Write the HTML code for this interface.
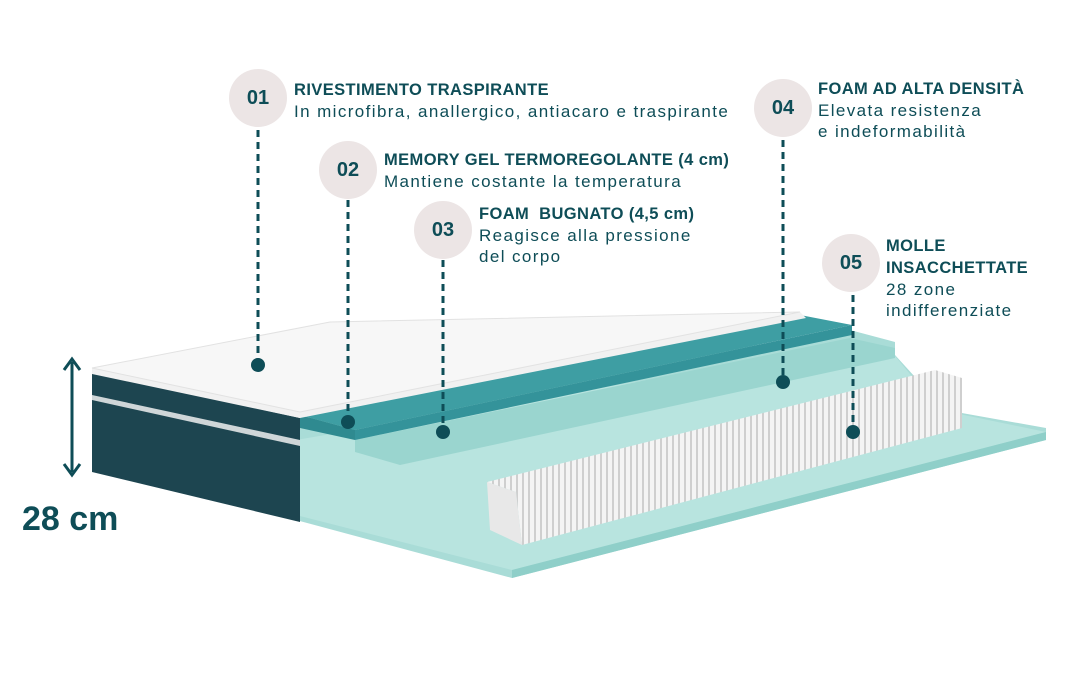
<!DOCTYPE html>
<html><head><meta charset="utf-8"><style>
html,body{margin:0;padding:0;background:#fff;}
body{width:1080px;height:680px;position:relative;overflow:hidden;font-family:"Liberation Sans",sans-serif;color:#0e4d57;}
.c{position:absolute;width:58px;height:58px;border-radius:50%;background:#ece5e5;font-weight:bold;font-size:20px;display:flex;align-items:center;justify-content:center;color:#0e4d57;}
.t{position:absolute;font-size:17px;letter-spacing:1.4px;line-height:21px;color:#0e4d57;white-space:nowrap;}
.t b{font-size:16.5px;letter-spacing:0.4px;}
</style></head><body>
<svg width="1080" height="680" style="position:absolute;left:0;top:0">
<defs>
<pattern id="sp" width="6" height="10" patternUnits="userSpaceOnUse">
<rect width="6" height="10" fill="#f4f4f4"/><rect x="0" width="2" height="10" fill="#cfcfcf"/>
</pattern>
</defs>
<polygon points="296,420 850,330 895,342 895,355 945,410 1046,428 1046,440 512,578 296,520" fill="#a9dcd7"/>
<polygon points="296,440 850,345 895,356 940,410 1046,432 512,570 296,515" fill="#b8e4df"/>
<polygon points="512,578 512,570 1046,432 1046,440" fill="#8fcfc9"/>
<polygon points="487,482 935,370 962,378 962,428 522,545 516,492" fill="url(#sp)"/>
<polygon points="487,482 516,492 522,545 490,530" fill="#e8e8e8"/>
<polygon points="355,440 850,338 895,348 895,358 400,465 355,452" fill="#9ad5cf"/>
<polygon points="300,415 800,315 852,325 355,430" fill="#3e9ea3"/>
<polygon points="300,415 355,430 355,440 300,428" fill="#2f8a90"/>
<polygon points="355,430 852,325 852,335 355,440" fill="#34939a"/>
<polygon points="92,372 300,418 300,522 92,472" fill="#1d4550"/>
<polygon points="92,395 300,440 300,446 92,400" fill="#cfd6d8"/>
<polygon points="92,368 330,322 800,312 806,318 300,418 92,374" fill="#f1f1f1"/>
<polygon points="92,368 330,322 800,312 300,412" fill="#f7f7f7" stroke="#e2e2e2"/>
<g stroke="#0e4d57" stroke-width="3" stroke-dasharray="7,5">
<line x1="258" y1="130" x2="258" y2="362"/>
<line x1="348" y1="200" x2="348" y2="420"/>
<line x1="443" y1="260" x2="443" y2="430"/>
<line x1="783" y1="140" x2="783" y2="380"/>
<line x1="853" y1="295" x2="853" y2="430"/>
</g>
<g fill="#0e4d57">
<circle cx="258" cy="365" r="7"/><circle cx="348" cy="422" r="7"/><circle cx="443" cy="432" r="7"/><circle cx="783" cy="382" r="7"/><circle cx="853" cy="432" r="7"/>
</g>
<line x1="72" y1="362" x2="72" y2="472" stroke="#0e4d57" stroke-width="3"/>
<polyline points="64,370 72,359 80,370" fill="none" stroke="#0e4d57" stroke-width="3"/>
<polyline points="64,464 72,475 80,464" fill="none" stroke="#0e4d57" stroke-width="3"/>
</svg>
<div class="c" style="left:229px;top:69px">01</div>
<div class="c" style="left:319px;top:141px">02</div>
<div class="c" style="left:414px;top:201px">03</div>
<div class="c" style="left:754px;top:79px">04</div>
<div class="c" style="left:822px;top:234px">05</div>
<div class="t" style="left:294px;top:79px"><b>RIVESTIMENTO TRASPIRANTE</b><br>In microfibra, anallergico, antiacaro e traspirante</div>
<div class="t" style="left:384px;top:149px"><b>MEMORY GEL TERMOREGOLANTE (4 cm)</b><br>Mantiene costante la temperatura</div>
<div class="t" style="left:479px;top:203px"><b>FOAM &nbsp;BUGNATO (4,5 cm)</b><br>Reagisce alla pressione<br>del corpo</div>
<div class="t" style="left:818px;top:78px"><b>FOAM AD ALTA DENSITÀ</b><br>Elevata resistenza<br>e indeformabilità</div>
<div class="t" style="left:886px;top:235px"><b>MOLLE<br>INSACCHETTATE</b><br>28 zone<br>indifferenziate</div>
<div style="position:absolute;left:22px;top:500px;font-size:34px;font-weight:bold;color:#0e4d57">28 cm</div>
</body></html>
